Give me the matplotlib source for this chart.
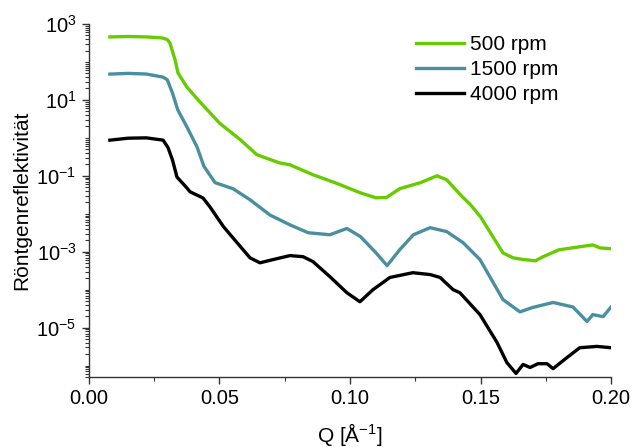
import matplotlib
matplotlib.use("Agg")
import matplotlib.pyplot as plt
from matplotlib.ticker import LogLocator, NullFormatter, MultipleLocator, FormatStrFormatter

plt.rcParams['font.family'] = ['Liberation Sans', 'DejaVu Sans']
plt.rcParams['mathtext.fontset'] = 'custom'
plt.rcParams['mathtext.rm'] = 'Liberation Sans'
plt.rcParams['mathtext.it'] = 'Liberation Sans'

# reflectivity curves, Q in 1/Angstrom
q_500 = [0.008, 0.015, 0.022, 0.028, 0.030, 0.031, 0.033, 0.0341, 0.0375, 0.0418, 0.050,
         0.058, 0.0643, 0.073, 0.077, 0.0858, 0.095, 0.104, 0.110, 0.114, 0.119,
         0.127, 0.1333, 0.137, 0.143, 0.146, 0.150, 0.1586, 0.1625, 0.166, 0.171,
         0.174, 0.180, 0.188, 0.193, 0.1958, 0.200]
r_500 = [457, 468, 457, 430, 390, 316, 112, 51, 21.9, 10, 2.45,
         0.89, 0.36, 0.219, 0.195, 0.107, 0.063, 0.0355, 0.0263, 0.0269, 0.0457,
         0.066, 0.1, 0.079, 0.0282, 0.0178, 0.0083, 9.3e-4, 6.9e-4, 6.3e-4, 5.75e-4,
         7.4e-4, 1.12e-3, 1.35e-3, 1.51e-3, 1.26e-3, 1.2e-3]

q_1500 = [0.008, 0.015, 0.022, 0.0284, 0.030, 0.032, 0.034, 0.0375, 0.0414, 0.044,
          0.0483, 0.0552, 0.0617, 0.0693, 0.077, 0.084, 0.0923, 0.0988, 0.104, 0.110,
          0.1142, 0.119, 0.1243, 0.1307, 0.137, 0.1433, 0.1498, 0.1586, 0.1651, 0.170,
          0.1778, 0.1854, 0.1908, 0.193, 0.197, 0.200]
r_1500 = [47.9, 50, 48, 39.8, 33.9, 15.1, 5.5, 1.95, 0.575, 0.18,
          0.066, 0.0457, 0.0234, 9.3e-3, 5.1e-3, 3.16e-3, 2.8e-3, 4.1e-3, 2.5e-3, 9.3e-4,
          4.3e-4, 1.12e-3, 2.8e-3, 4.3e-3, 3.4e-3, 1.74e-3, 6.2e-4, 5.5e-5, 2.6e-5, 3.4e-5,
          4.6e-5, 3.5e-5, 1.45e-5, 2.2e-5, 1.95e-5, 3.5e-5]

q_4000 = [0.008, 0.015, 0.022, 0.0284, 0.0303, 0.032, 0.0337, 0.0375, 0.0387, 0.0437,
          0.0464, 0.0515, 0.0567, 0.0617, 0.0655, 0.0705, 0.077, 0.082, 0.0858, 0.0923,
          0.0988, 0.1038, 0.1088, 0.1153, 0.1241, 0.1307, 0.1345, 0.1395, 0.1421, 0.1498,
          0.1563, 0.1601, 0.1636, 0.1663, 0.169, 0.172, 0.1755, 0.1778, 0.1831, 0.188,
          0.1946, 0.200]
r_4000 = [0.87, 0.98, 1.0, 0.87, 0.55, 0.26, 0.093, 0.048, 0.038, 0.026,
          0.015, 4.6e-3, 1.74e-3, 6.9e-4, 5.1e-4, 6.2e-4, 7.9e-4, 7.4e-4, 5.5e-4, 2.2e-4,
          8.3e-5, 4.8e-5, 1e-4, 2.1e-4, 2.8e-4, 2.5e-4, 2.1e-4, 1e-4, 8.3e-5, 2.2e-5,
          4.1e-6, 1.2e-6, 6.2e-7, 1.07e-6, 8.9e-7, 1.12e-6, 1.12e-6, 8.3e-7, 1.62e-6, 2.95e-6,
          3.2e-6, 2.95e-6]

labels = ['500 rpm', '1500 rpm', '4000 rpm']
colors = ['#66cc00', '#4a8fa0', '#000000']

fig = plt.figure(figsize=(6.32, 4.47), dpi=100)
ax = fig.add_axes([0.1408, 0.1566, 0.826, 0.7897])

for q, r, lab, c in zip([q_500, q_1500, q_4000], [r_500, r_1500, r_4000], labels, colors):
    ax.plot(q, r, color=c, lw=2.4, label=lab, solid_joinstyle='round')

ax.set_yscale('log')
ax.set_xlim(0, 0.2)
ax.set_ylim(5e-7, 1e3)
ax.set_yticks([1e-5, 1e-3, 1e-1, 1e1, 1e3])
ax.yaxis.set_minor_locator(LogLocator(base=10, subs=range(1, 10), numticks=30))
ax.yaxis.set_minor_formatter(NullFormatter())
ax.xaxis.set_major_locator(MultipleLocator(0.05))
ax.xaxis.set_minor_locator(MultipleLocator(0.025))
ax.xaxis.set_major_formatter(FormatStrFormatter('%.2f'))

for s in ['top', 'right']:
    ax.spines[s].set_visible(False)
for s in ['left', 'bottom']:
    ax.spines[s].set_color('#333333')
    ax.spines[s].set_linewidth(1.0)

ax.tick_params(which='both', direction='out', labelsize=14.5, colors='#333333', labelcolor='black')
ax.tick_params(which='major', length=5, width=1, pad=4)
ax.tick_params(which='minor', length=3, width=0.8)

ax.set_xlabel('Q [Å$^{-1}$]', fontsize=15, labelpad=9)
ax.set_ylabel('Röntgenreflektivität', fontsize=15, labelpad=4)

ax.legend(loc='upper right', bbox_to_anchor=(0.935, 1.022), frameon=False, fontsize=15,
          handlelength=2.3, handletextpad=0.3, labelspacing=0.3)

fig.savefig('out.png', dpi=100)
